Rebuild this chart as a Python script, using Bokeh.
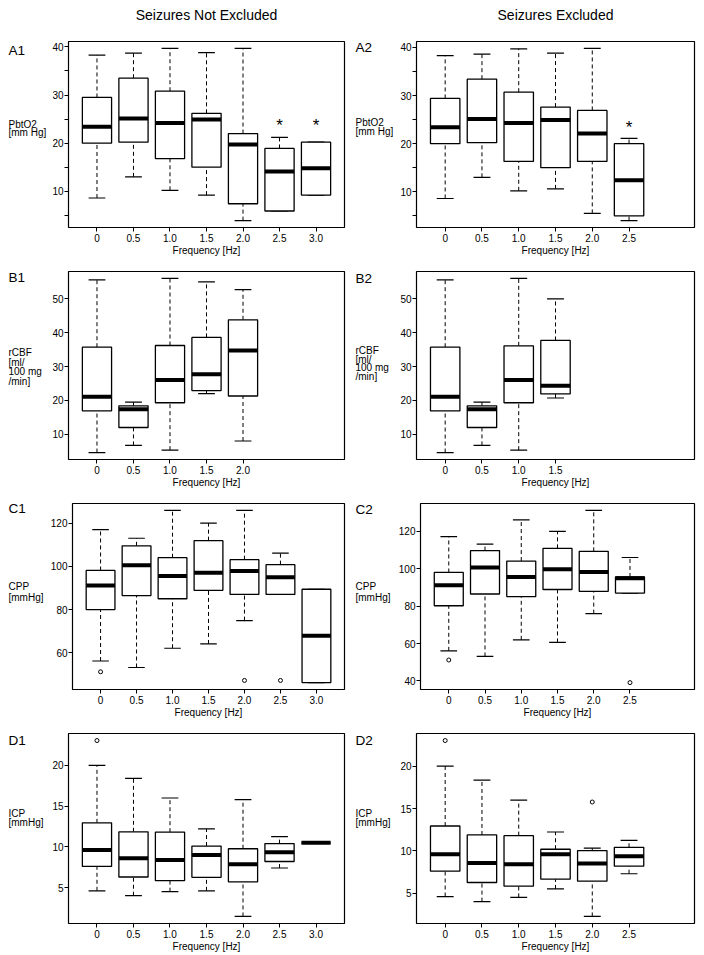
import numpy as np
from bokeh.plotting import figure
from bokeh.models import Range1d, FixedTicker, ColumnDataSource
from bokeh.layouts import column, row
from bokeh.embed import file_html
from bokeh.resources import INLINE
from bokeh.core.properties import value

FONT = "Liberation Sans"

# ---------------- data ----------------
A1_freq = ["0", "0.5", "1.0", "1.5", "2.0", "2.5", "3.0"]
A1_lo  = [8.6, 13.0, 10.2, 9.2, 3.9, 5.9, 9.2]
A1_q1  = [20.0, 20.2, 16.8, 15.0, 7.4, 5.9, 9.2]
A1_med = [23.4, 25.1, 24.2, 24.9, 19.7, 14.1, 14.8]
A1_q3  = [29.5, 33.5, 30.8, 26.2, 22.0, 18.9, 20.2]
A1_hi  = [38.3, 38.7, 39.7, 38.8, 39.7, 21.2, 20.2]
A1_out_f, A1_out_v = [], []
A1_star_f, A1_star_v = ["2.5", "3.0"], [24.4, 24.4]

A2_freq = ["0", "0.5", "1.0", "1.5", "2.0", "2.5"]
A2_lo  = [8.6, 13.0, 10.2, 10.6, 5.5, 4.0]
A2_q1  = [20.0, 20.2, 16.3, 15.0, 16.3, 5.0]
A2_med = [23.4, 25.1, 24.3, 24.9, 22.1, 12.4]
A2_q3  = [29.4, 33.4, 30.7, 27.6, 26.9, 20.0]
A2_hi  = [38.3, 38.6, 39.7, 38.8, 39.8, 21.1]
A2_out_f, A2_out_v = [], []
A2_star_f, A2_star_v = ["2.5"], [24.2]

B1_freq = ["0", "0.5", "1.0", "1.5", "2.0"]
B1_lo  = [4.6, 6.7, 5.3, 22.0, 8.0]
B1_q1  = [16.9, 12.0, 19.3, 22.9, 21.3]
B1_med = [21.1, 17.4, 26.0, 27.7, 34.7]
B1_q3  = [35.7, 18.4, 36.2, 38.6, 43.8]
B1_hi  = [55.6, 19.5, 56.0, 55.0, 52.7]
B1_out_f, B1_out_v = [], []

B2_freq = ["0", "0.5", "1.0", "1.5"]
B2_lo  = [4.6, 6.7, 5.3, 20.7]
B2_q1  = [16.9, 12.0, 19.3, 21.9]
B2_med = [21.1, 17.4, 26.0, 24.3]
B2_q3  = [35.7, 18.4, 36.1, 37.7]
B2_hi  = [55.6, 19.5, 56.0, 50.0]
B2_out_f, B2_out_v = [], []

C1_freq = ["0", "0.5", "1.0", "1.5", "2.0", "2.5", "3.0"]
C1_lo  = [56.2, 53.2, 62.1, 64.1, 74.9, 87.0, 46.2]
C1_q1  = [80.0, 86.5, 85.0, 88.9, 87.0, 87.0, 46.2]
C1_med = [91.1, 100.5, 95.5, 97.0, 97.9, 95.0, 67.9]
C1_q3  = [98.1, 109.5, 104.0, 111.9, 103.1, 100.8, 89.4]
C1_hi  = [117.0, 113.0, 125.9, 120.0, 125.9, 106.1, 89.4]
C1_out_f, C1_out_v = ["0", "2.0", "2.5"], [51.2, 47.2, 47.2]

C2_freq = ["0", "0.5", "1.0", "1.5", "2.0", "2.5"]
C2_lo  = [56.1, 53.1, 62.0, 60.6, 76.0, 87.0]
C2_q1  = [80.2, 86.5, 85.1, 88.9, 87.9, 87.0]
C2_med = [91.2, 100.6, 95.6, 99.7, 98.2, 94.9]
C2_q3  = [98.0, 109.7, 104.1, 110.9, 109.3, 95.6]
C2_hi  = [117.2, 113.2, 126.1, 120.0, 131.2, 106.0]
C2_out_f, C2_out_v = ["0", "2.5"], [51.2, 39.1]

D1_freq = ["0", "0.5", "1.0", "1.5", "2.0", "2.5", "3.0"]
D1_lo  = [4.6, 4.0, 4.5, 4.6, 1.45, 7.4, 10.5]
D1_q1  = [7.6, 6.3, 5.85, 6.26, 5.7, 8.2, 10.5]
D1_med = [9.6, 8.6, 8.4, 9.0, 7.85, 9.35, 10.5]
D1_q3  = [12.95, 11.85, 11.8, 10.1, 9.77, 10.4, 10.5]
D1_hi  = [20.0, 18.4, 16.0, 12.2, 15.8, 11.25, 10.5]
D1_out_f, D1_out_v = ["0"], [23.06]

D2_freq = ["0", "0.5", "1.0", "1.5", "2.0", "2.5"]
D2_lo  = [4.6, 4.0, 4.5, 5.5, 2.24, 7.3]
D2_q1  = [7.6, 6.26, 5.83, 6.66, 6.42, 8.2]
D2_med = [9.6, 8.58, 8.43, 9.6, 8.5, 9.37]
D2_q3  = [12.95, 11.89, 11.81, 10.2, 10.04, 10.43]
D2_hi  = [20.04, 18.39, 16.02, 12.24, 10.32, 11.26]
D2_out_f, D2_out_v = ["0", "2.0"], [23.07, 15.79]

ALL_FREQ = ["0", "0.5", "1.0", "1.5", "2.0", "2.5", "3.0"]

A_yticks, A_yminor = [10, 20, 30, 40], [5, 15, 25, 35]
B_yticks = [10, 20, 30, 40, 50]
C1_yticks = [60, 80, 100, 120]
C2_yticks = [40, 60, 80, 100, 120]
D_yticks = [5, 10, 15, 20]

TITLES = ["Seizures Not Excluded", "Seizures Excluded"]
X_LABEL = "Frequency [Hz]"

# ---------------- layout geometry (page px) ----------------
HEADER = dict(top=0, h=26)
COLS = {"L": dict(lab_left=0, lab_w=47, tx=8, w=305, fl=68, fr=344),
        "R": dict(lab_left=352, lab_w=43, tx=355, w=308, fl=416, fr=694)}
ROWS = {"A": dict(top=26, h=232, ft=41, fb=228),
        "B": dict(top=258, h=232, ft=271, fb=463),
        "C": dict(top=490, h=230, ft=503, fb=693),
        "D": dict(top=720, h=234, ft=733, fb=923)}

LABEL_PX = 10
LETTER_PX = 13.5


def blank_fig(x0, w, y0, h):
    f = figure(width=w, height=h, x_range=Range1d(x0, x0 + w), y_range=Range1d(y0 + h, y0),
               output_backend="svg", toolbar_location=None, tools="",
               x_axis_location=None, y_axis_location=None,
               min_border_left=0, min_border_right=0, min_border_top=0, min_border_bottom=0)
    f.outline_line_color = None
    f.background_fill_color = "white"
    f.border_fill_color = "white"
    f.xgrid.visible = False
    f.ygrid.visible = False
    return f


def put_text(f, xs, ys, texts, size, align="left"):
    f.text(x=xs, y=ys, text=texts, text_font=value(FONT), text_font_size=f"{size}px",
           text_align=align, text_baseline="middle", text_color="black")


def make_panel(colkey, rowkey, freq, lo, q1, med, q3, hi, out_f, out_v,
               yticks, yminor, letter, letter_y, ylab, ylab_y,
               star_f=None, star_v=None):
    c, r = COLS[colkey], ROWS[rowkey]
    # label strip on the left (panel letter + horizontal y label)
    lf = blank_fig(c["lab_left"], c["lab_w"], r["top"], r["h"])
    put_text(lf, [c["tx"]], [letter_y], [letter], LETTER_PX)
    put_text(lf, [c["tx"]] * len(ylab), ylab_y, ylab, LABEL_PX)

    ymin = min(lo + out_v)
    ymax = max(hi + out_v)
    pad = 0.04 * (ymax - ymin)
    fig_left = c["lab_left"] + c["lab_w"]
    p = figure(width=c["w"], height=r["h"],
               x_range=Range1d(0.22, 7.78), y_range=Range1d(ymin - pad, ymax + pad),
               output_backend="svg", toolbar_location=None, tools="",
               min_border_left=c["fl"] - fig_left,
               min_border_right=fig_left + c["w"] - c["fr"],
               min_border_top=r["ft"] - r["top"],
               min_border_bottom=r["top"] + r["h"] - r["fb"])
    p.background_fill_color = "white"
    p.border_fill_color = "white"
    p.outline_line_color = "black"
    p.outline_line_width = 1.2
    p.xgrid.visible = False
    p.ygrid.visible = False

    xs = np.array([ALL_FREQ.index(f) + 1 for f in freq], dtype=float)
    p.xaxis.ticker = FixedTicker(ticks=list(xs))
    p.xaxis.major_label_overrides = {int(x): f for x, f in zip(xs, freq)}
    p.yaxis.ticker = FixedTicker(ticks=yticks, minor_ticks=yminor or [])
    for ax in (p.xaxis, p.yaxis):
        ax.axis_line_color = None
        ax.major_tick_out = 4
        ax.major_tick_in = 0
        ax.major_tick_line_color = "black"
        ax.major_tick_line_width = 1
        ax.major_label_text_font = FONT
        ax.major_label_text_font_size = f"{LABEL_PX}px"
        ax.major_label_text_color = "black"
        ax.major_label_standoff = 2
    p.yaxis.major_label_standoff = 1
    p.xaxis.axis_label = X_LABEL
    p.xaxis.axis_label_text_font = FONT
    p.xaxis.axis_label_text_font_size = f"{LABEL_PX}px"
    p.xaxis.axis_label_text_font_style = "normal"
    p.xaxis.axis_label_text_color = "black"
    p.xaxis.axis_label_standoff = 0
    p.xaxis.minor_tick_line_color = None
    if yminor:
        p.yaxis.minor_tick_out = 4
        p.yaxis.minor_tick_in = 0
        p.yaxis.minor_tick_line_color = "black"
    else:
        p.yaxis.minor_tick_line_color = None

    src = ColumnDataSource(dict(x=xs, lo=lo, q1=q1, med=med, q3=q3, hi=hi,
                                bl=xs - 0.4, br=xs + 0.4, cl=xs - 0.23, cr=xs + 0.23))
    p.segment(x0="x", y0="q3", x1="x", y1="hi", source=src, line_color="black",
              line_width=1, line_dash="4 3")
    p.segment(x0="x", y0="lo", x1="x", y1="q1", source=src, line_color="black",
              line_width=1, line_dash="4 3")
    p.segment(x0="cl", y0="hi", x1="cr", y1="hi", source=src, line_color="black", line_width=1.2)
    p.segment(x0="cl", y0="lo", x1="cr", y1="lo", source=src, line_color="black", line_width=1.2)
    p.quad(left="bl", right="br", bottom="q1", top="q3", source=src,
           fill_color="white", line_color="black", line_width=1.3)
    p.segment(x0="bl", y0="med", x1="br", y1="med", source=src, line_color="black",
              line_width=4, line_cap="butt")
    if out_f:
        ox = [ALL_FREQ.index(f) + 1 for f in out_f]
        p.scatter(x=ox, y=out_v, marker="circle", size=4, fill_color="white",
                  line_color="black", line_width=1)
    if star_f:
        sxs = [ALL_FREQ.index(f) + 1 for f in star_f]
        p.text(x=sxs, y=star_v, text=["*"] * len(sxs), text_font=value(FONT),
               text_font_size="17px", text_align="center", text_baseline="middle",
               y_offset=4, text_color="black")
    return [lf, p]


header = blank_fig(0, 703, HEADER["top"], HEADER["h"])
put_text(header, [(COLS["L"]["fl"] + COLS["L"]["fr"]) / 2, (COLS["R"]["fl"] + COLS["R"]["fr"]) / 2],
         [14, 14], TITLES, 14, "center")

a1 = make_panel("L", "A", A1_freq, A1_lo, A1_q1, A1_med, A1_q3, A1_hi, A1_out_f, A1_out_v,
                A_yticks, A_yminor, "A1", 37, ["PbtO2", "[mm Hg]"], [129, 140],
                A1_star_f, A1_star_v)
a2 = make_panel("R", "A", A2_freq, A2_lo, A2_q1, A2_med, A2_q3, A2_hi, A2_out_f, A2_out_v,
                A_yticks, A_yminor, "A2", 34, ["PbtO2", "[mm Hg]"], [127, 138],
                A2_star_f, A2_star_v)
b1 = make_panel("L", "B", B1_freq, B1_lo, B1_q1, B1_med, B1_q3, B1_hi, B1_out_f, B1_out_v,
                B_yticks, None, "B1", 266, ["rCBF", "[ml/", "100 mg", "/min]"], [358, 370, 382, 394])
b2 = make_panel("R", "B", B2_freq, B2_lo, B2_q1, B2_med, B2_q3, B2_hi, B2_out_f, B2_out_v,
                B_yticks, None, "B2", 267, ["rCBF", "[ml/", "100 mg", "/min]"], [355, 366, 377, 388])
c1 = make_panel("L", "C", C1_freq, C1_lo, C1_q1, C1_med, C1_q3, C1_hi, C1_out_f, C1_out_v,
                C1_yticks, None, "C1", 496, ["CPP", "[mmHg]"], [593, 606])
c2 = make_panel("R", "C", C2_freq, C2_lo, C2_q1, C2_med, C2_q3, C2_hi, C2_out_f, C2_out_v,
                C2_yticks, None, "C2", 497, ["CPP", "[mmHg]"], [593, 606])
d1 = make_panel("L", "D", D1_freq, D1_lo, D1_q1, D1_med, D1_q3, D1_hi, D1_out_f, D1_out_v,
                D_yticks, None, "D1", 729, ["ICP", "[mmHg]"], [819, 830])
d2 = make_panel("R", "D", D2_freq, D2_lo, D2_q1, D2_med, D2_q3, D2_hi, D2_out_f, D2_out_v,
                D_yticks, None, "D2", 729, ["ICP", "[mmHg]"], [819, 830])

layout = column(header, row(*a1, *a2), row(*b1, *b2), row(*c1, *c2), row(*d1, *d2))
open("out.html", "w").write(file_html(layout, INLINE))
